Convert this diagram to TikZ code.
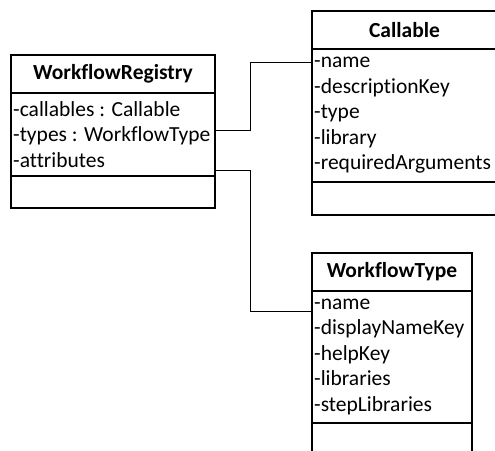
\documentclass[tikz,border=0pt]{standalone}
\usepackage{fontspec}
\setmainfont{Carlito}[Ligatures={NoCommon}]
\begin{document}
\begin{tikzpicture}[x=1pt,y=-1pt,
  box/.style={draw, line width=1.3pt, outer sep=0pt, inner sep=0pt, anchor=north west},
  hdr/.style={box, font=\fontsize{21.5}{25.5}\selectfont\bfseries},
  attrtext/.style={anchor=west, align=left, inner xsep=2pt, inner ysep=0pt,
                   font=\fontsize{21.5}{25.5}\selectfont},
  conn/.style={draw, line width=0.9pt}]
\useasboundingbox (0,0) rectangle (495,450);

% WorkflowRegistry
\node[hdr, minimum width=204, minimum height=38] (wrh) at (11,55) {WorkflowRegistry};
\node[box, minimum width=204, minimum height=83] (wra) at (wrh.south west) {};
\node[box, minimum width=204, minimum height=32] (wrm) at (wra.south west) {};
\node[attrtext] (wrt) at (wra.west) {-callables : Callable\\-types : WorkflowType\\-attributes};

% Callable
\node[hdr, minimum width=185, minimum height=38] (clh) at (312,11) {Callable};
\node[box, minimum width=185, minimum height=133] (cla) at (clh.south west) {};
\node[box, minimum width=185, minimum height=33] (clm) at (cla.south west) {};
\node[attrtext] (clt) at (cla.west) {-name\\-descriptionKey\\-type\\-library\\-requiredArguments};

% WorkflowType
\node[hdr, minimum width=160, minimum height=38] (wth) at (312,253) {WorkflowType};
\node[box, minimum width=160, minimum height=132] (wta) at (wth.south west) {};
\node[box, minimum width=160, minimum height=40] (wtm) at (wta.south west) {};
\node[attrtext] (wtt) at (wta.west) {-name\\-displayNameKey\\-helpKey\\-libraries\\-stepLibraries};

% associations
\draw[conn] ([yshift=-37pt]wra.north east) -- ++(35,0) |- ([yshift=-13pt]cla.north west);
\draw[conn] ([yshift=-77pt]wra.north east) -- ++(35,0) |- ([yshift=-20pt]wta.north west);
\end{tikzpicture}
\end{document}
